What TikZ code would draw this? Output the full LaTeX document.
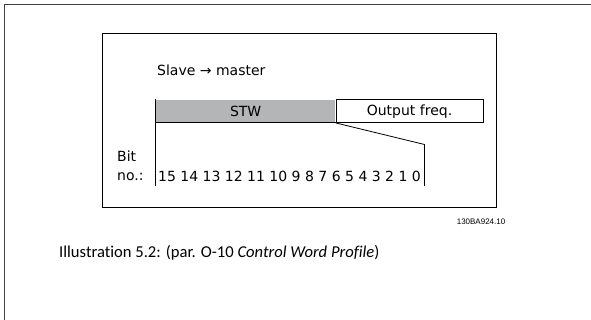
\documentclass[tikz,border=0pt]{standalone}
\usepackage{fontspec}
\setmainfont{DejaVu Sans}
\newfontfamily\capfont[Ligatures=NoCommon]{Carlito}
\newfontfamily\codefont{Liberation Sans}
\usetikzlibrary{positioning}
\definecolor{stwgray}{RGB}{180,181,183}

\begin{document}
\begin{tikzpicture}[x=1pt,y=-1pt,
  label/.style={anchor=west, inner sep=0pt, font=\fontsize{14}{16}\selectfont},
  field/.style={minimum height=23pt, inner sep=0pt, font=\fontsize{14}{16}\selectfont}]
\useasboundingbox (0,0) rectangle (591,320);
\draw[line width=1.5pt, black!75] (591,4.5) -- (4.5,4.5) -- (4.5,320);
\draw[line width=0.8pt] (102,33) rectangle (496,207);
\node[label] (slave) at (157,70) {Slave → master};
\node[field, fill=stwgray, minimum width=179.5pt, anchor=north west] (stw) at (155.7,99.5) {STW};
\node[field, draw, line width=0.8pt, minimum width=147pt, anchor=west] (freq) at (stw.east) {Output freq.};
\draw[line width=0.8pt] (stw.north west) -- (stw.south west) -- (stw.south east);
\coordinate (bitl) at (155.7,186);
\coordinate (knee) at (424.5,144.5);
\coordinate (bitr) at (424.5,186);
\draw[line width=0.8pt] (stw.south west) -- (bitl);
\draw[line width=0.8pt] (stw.south east) -- (knee) -- (bitr);
\node[label] (bit) at (117,156.5) {Bit};
\node[label] (no) at (117,176.7) {no.:};
\node[label] (bits) at (158,176.7) {15 14 13 12 11 10 9 8 7 6 5 4 3 2 1 0};
\node[anchor=east, inner sep=0pt, font=\codefont\fontsize{8}{9}\selectfont] (code) at (505.5,222) {130BA924.10};
\node[anchor=west, inner sep=0pt, font=\capfont\fontsize{16.6}{20}\selectfont] (caption) at (59,253) {Illustration 5.2: (par. O-10 \textit{Control Word Profile})};
\end{tikzpicture}
\end{document}
